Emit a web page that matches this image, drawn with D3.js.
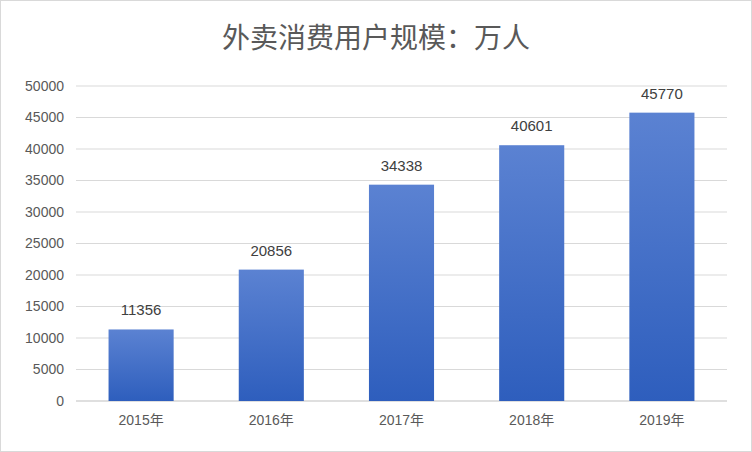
<!DOCTYPE html>
<html><head><meta charset="utf-8">
<script src="https://cdn.jsdelivr.net/npm/d3@7"></script>
<style>body{margin:0;background:#fff}</style>
</head><body>
<svg id="c" width="752" height="452"></svg>
<script>
const categories = ["2015年","2016年","2017年","2018年","2019年"];
const values = [11356,20856,34338,40601,45770];
const yTicks = [0,5000,10000,15000,20000,25000,30000,35000,40000,45000,50000];
const title = "外卖消费用户规模：万人";

const svg = d3.select("#c");
svg.append("rect").attr("x",0.5).attr("y",0.5).attr("width",751).attr("height",451)
  .attr("fill","#fff").attr("stroke","#d9d9d9");
const defs = svg.append("defs");
const g = defs.append("linearGradient").attr("id","bg").attr("x1",0).attr("y1",0).attr("x2",0).attr("y2",1);
g.append("stop").attr("offset","0%").attr("stop-color","#5b82d2");
g.append("stop").attr("offset","100%").attr("stop-color","#2e5ebd");

const x = d3.scaleBand().domain(categories).range([76,727]).paddingInner(0.5).paddingOuter(0.25);
const y = d3.scaleLinear().domain([0,50000]).range([401,86]);

const grid = svg.append("g");
yTicks.forEach(t=>{
  grid.append("line").attr("x1",76).attr("x2",727).attr("y1",y(t)).attr("y2",y(t))
    .attr("stroke",t===0?"#bfbfbf":"#d9d9d9").attr("stroke-width",1);
});
const yAxis = d3.axisLeft(y).tickValues(yTicks).tickSize(0).tickPadding(12).tickFormat(d3.format("d"));
const ya = svg.append("g").attr("transform","translate(76,0)").call(yAxis);
ya.select(".domain").remove();
ya.selectAll("text").attr("font-family","Liberation Sans, Arial").attr("font-size",14).attr("fill","#595959");

const xAxis = d3.axisBottom(x).tickSize(0).tickPadding(14);
const xa = svg.append("g").attr("transform","translate(0,401)").call(xAxis);
xa.select(".domain").remove();
xa.selectAll("text").attr("font-family","Liberation Sans, Noto Sans CJK SC").attr("font-size",14).attr("fill","#595959");

svg.selectAll(".bar").data(values).enter().append("rect")
  .attr("x",(d,i)=>x(categories[i])).attr("width",x.bandwidth())
  .attr("y",d=>y(d)).attr("height",d=>y(0)-y(d)).attr("fill","url(#bg)");
svg.selectAll(".lbl").data(values).enter().append("text")
  .attr("x",(d,i)=>x(categories[i])+x.bandwidth()/2).attr("y",d=>y(d)-14)
  .attr("text-anchor","middle").attr("font-family","Liberation Sans, Arial").attr("font-size",15)
  .attr("fill","#404040").text(d=>d);

svg.append("text").attr("x",376).attr("y",48).attr("text-anchor","middle")
  .attr("font-family","Noto Sans CJK SC").attr("font-size",28).attr("fill","#595959").text(title);
</script>
</body></html>
